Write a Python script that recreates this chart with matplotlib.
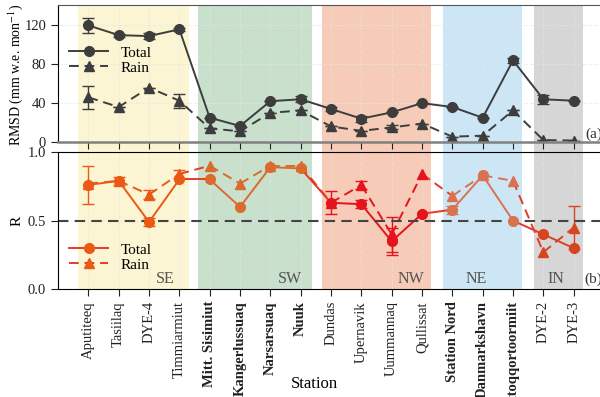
import numpy as np
import matplotlib
matplotlib.use('Agg')
import matplotlib.pyplot as plt

plt.rcParams['font.family'] = ['Liberation Serif', 'DejaVu Serif']
plt.rcParams['mathtext.fontset'] = 'stix'

# stations, grouped by region
stations = ['Aputiteeq', 'Tasiilaq', 'DYE-4', 'Timmiarmiut',
            'Mitt. Sisimiut', 'Kangerlussuaq', 'Narsarsuaq', 'Nuuk',
            'Dundas', 'Upernavik', 'Uummannaq', 'Qullissat',
            'Station Nord', 'Danmarkshavn', 'Ittoqqortoormiit',
            'DYE-2', 'DYE-3']
bold_stations = ['Mitt. Sisimiut', 'Kangerlussuaq', 'Narsarsuaq', 'Nuuk',
                 'Station Nord', 'Danmarkshavn', 'Ittoqqortoormiit']
region_of = ['SE'] * 4 + ['SW'] * 4 + ['NW'] * 4 + ['NE'] * 3 + ['IN'] * 2

regions = ['SE', 'SW', 'NW', 'NE', 'IN']
region_start = [-0.33, 3.63, 7.7, 11.7, 14.7]
region_end = [3.33, 7.37, 11.3, 14.3, 16.3]
region_fill = ['#fbf5d3', '#c9e0cd', '#f6cbb8', '#cde6f6', '#d6d6d6']
region_line = ['#ea5a14', '#da6b2c', '#e5141c', '#d8724f', '#d6451f']
region_label_x = [2.55, 6.65, 10.65, 12.8, 15.4]

# RMSD (mm w.e. mon-1)
rmsd_total = [120, 110, 109, 116, 25, 16.5, 42, 44, 34, 24, 30.5, 40, 36, 25, 84, 44, 42.5]
rmsd_total_err = [8, 1.5, 3, 1.5, 0, 0, 0, 3, 2.5, 3, 0, 0, 0, 0, 2.5, 4.5, 0]
rmsd_rain = [46, 36, 56, 42.5, 14, 11, 30, 32.5, 16, 11.5, 15, 19, 5.5, 6.5, 32.5, 2, 1.5]
rmsd_rain_err = [12, 0, 0, 7, 0, 0, 0, 0, 0, 0, 2, 0, 0, 0, 0, 0, 0]

# correlation coefficient R
r_total = [0.76, 0.79, 0.49, 0.80, 0.80, 0.60, 0.89, 0.88, 0.63, 0.62, 0.35, 0.55, 0.58, 0.83, 0.50, 0.40, 0.30]
r_total_err = [0.14, 0.03, 0.03, 0, 0, 0, 0, 0, 0.085, 0.03, 0.1, 0, 0.03, 0, 0, 0, 0]
r_rain = [0.77, 0.79, 0.69, 0.84, 0.90, 0.77, 0.90, 0.90, 0.63, 0.76, 0.40, 0.84, 0.68, 0.83, 0.79, 0.27, 0.45]
r_rain_err = [0, 0, 0.03, 0.03, 0, 0, 0, 0, 0, 0.03, 0.13, 0, 0, 0, 0, 0, 0.16]

x = np.arange(len(stations))
gray = '#3d3d3d'
bridge = '#e63a26'

fig = plt.figure(figsize=(6, 3.97), dpi=100)
L, R = 0.0967, 1.0067
bg = fig.add_axes([L, 0.2713, R - L, 0.9874 - 0.2713], zorder=0)
ax1 = fig.add_axes([L, 0.6423, R - L, 0.9874 - 0.6423], zorder=1)
ax2 = fig.add_axes([L, 0.2713, R - L, 0.6171 - 0.2713], zorder=1)

bg.set_xlim(-1, 17)
bg.axis('off')
for s, e, c in zip(region_start, region_end, region_fill):
    bg.axvspan(s, e, color=c, lw=0)

for ax in (ax1, ax2):
    ax.set_facecolor('none')
    ax.set_xlim(-1, 17)
    ax.set_xticks(x)
    ax.grid(True, color='#e6e6e6', ls='--', lw=0.8, alpha=0.6)
    ax.set_axisbelow(True)
    ax.tick_params(direction='out', length=5, labelsize=10.5, colors='#222222')
    ax.spines['right'].set_visible(False)

# top panel: RMSD
ax1.plot(x, rmsd_total, '-o', color=gray, ms=7, lw=1.4, label='Total')
ax1.plot(x, rmsd_rain, '--^', color=gray, ms=7, lw=1.4, dashes=(5, 3), label='Rain')
ax1.errorbar(x, rmsd_total, yerr=rmsd_total_err, fmt='none', ecolor=gray, capsize=4, lw=1)
ax1.errorbar(x, rmsd_rain, yerr=rmsd_rain_err, fmt='none', ecolor=gray, capsize=4, lw=1)
ax1.set_ylim(0, 141)
ax1.set_yticks([0, 40, 80, 120])
ax1.tick_params(axis='x', labelbottom=False)
ax1.spines['bottom'].set_color('#808080')
ax1.spines['bottom'].set_linewidth(1.8)
ax1.spines['top'].set_color('#555555')
ax1.set_ylabel('RMSD (mm w.e. mon$^{-1}$)', fontsize=10)
ax1.yaxis.set_label_coords(-0.060, 0.49)
ax1.legend(loc='upper left', bbox_to_anchor=(0.0, 0.78), frameon=False, fontsize=11,
           handlelength=2.6, borderpad=0.2, labelspacing=0.1, handletextpad=0.8)
ax1.text(16.65, 8, '(a)', fontsize=11, ha='center', va='center', color='#333333')

# bottom panel: R, coloured by region
cols = [region_line[regions.index(r)] for r in region_of]
for i in range(len(x) - 1):
    c = cols[i] if region_of[i] == region_of[i + 1] else bridge
    ax2.plot(x[i:i + 2], r_total[i:i + 2], '-', color=c, lw=1.4)
    ax2.plot(x[i:i + 2], r_rain[i:i + 2], '--', color=c, lw=1.4, dashes=(5, 3))
for i in range(len(x)):
    ax2.errorbar(x[i], r_rain[i], yerr=r_rain_err[i] or None, fmt='^', color=cols[i],
                 ms=7, capsize=4, lw=1)
    ax2.errorbar(x[i], r_total[i], yerr=r_total_err[i] or None, fmt='o', color=cols[i],
                 ms=7, capsize=4, lw=1)
ax2.axhline(0.5, color='#444444', ls='--', lw=1.5, dashes=(5, 3))
ax2.set_ylim(0, 1)
ax2.set_yticks([0, 0.5, 1.0])
ax2.set_yticklabels(['0.0', '0.5', '1.0'])
ax2.set_ylabel('R', fontsize=11)
ax2.yaxis.set_label_coords(-0.064, 0.5)

h1, = ax2.plot([], [], '-o', color=bridge, mfc=region_line[0], mec=region_line[0], ms=7, lw=1.4)
h2, = ax2.plot([], [], '--^', color=bridge, mfc=region_line[0], mec=region_line[0], ms=7, lw=1.4,
               dashes=(5, 3))
ax2.legend([h1, h2], ['Total', 'Rain'], loc='lower left', bbox_to_anchor=(0.0, 0.05),
           frameon=False, fontsize=11, handlelength=2.6, borderpad=0.2,
           labelspacing=0.1, handletextpad=0.8)

for name, lx in zip(regions, region_label_x):
    ax2.text(lx, 0.075, name, fontsize=11.5, ha='center', va='center', color='#555555')
ax2.text(16.65, 0.075, '(b)', fontsize=11, ha='center', va='center', color='#333333')

ax2.set_xticklabels(stations, rotation=90, fontsize=10.5, va='top')
for lab in ax2.get_xticklabels():
    if lab.get_text() in bold_stations:
        lab.set_fontweight('bold')
ax2.set_xlabel('Station', fontsize=12)
ax2.xaxis.set_label_coords((7.45 + 1) / 18, -0.63)

fig.savefig('out.png', dpi=100)
